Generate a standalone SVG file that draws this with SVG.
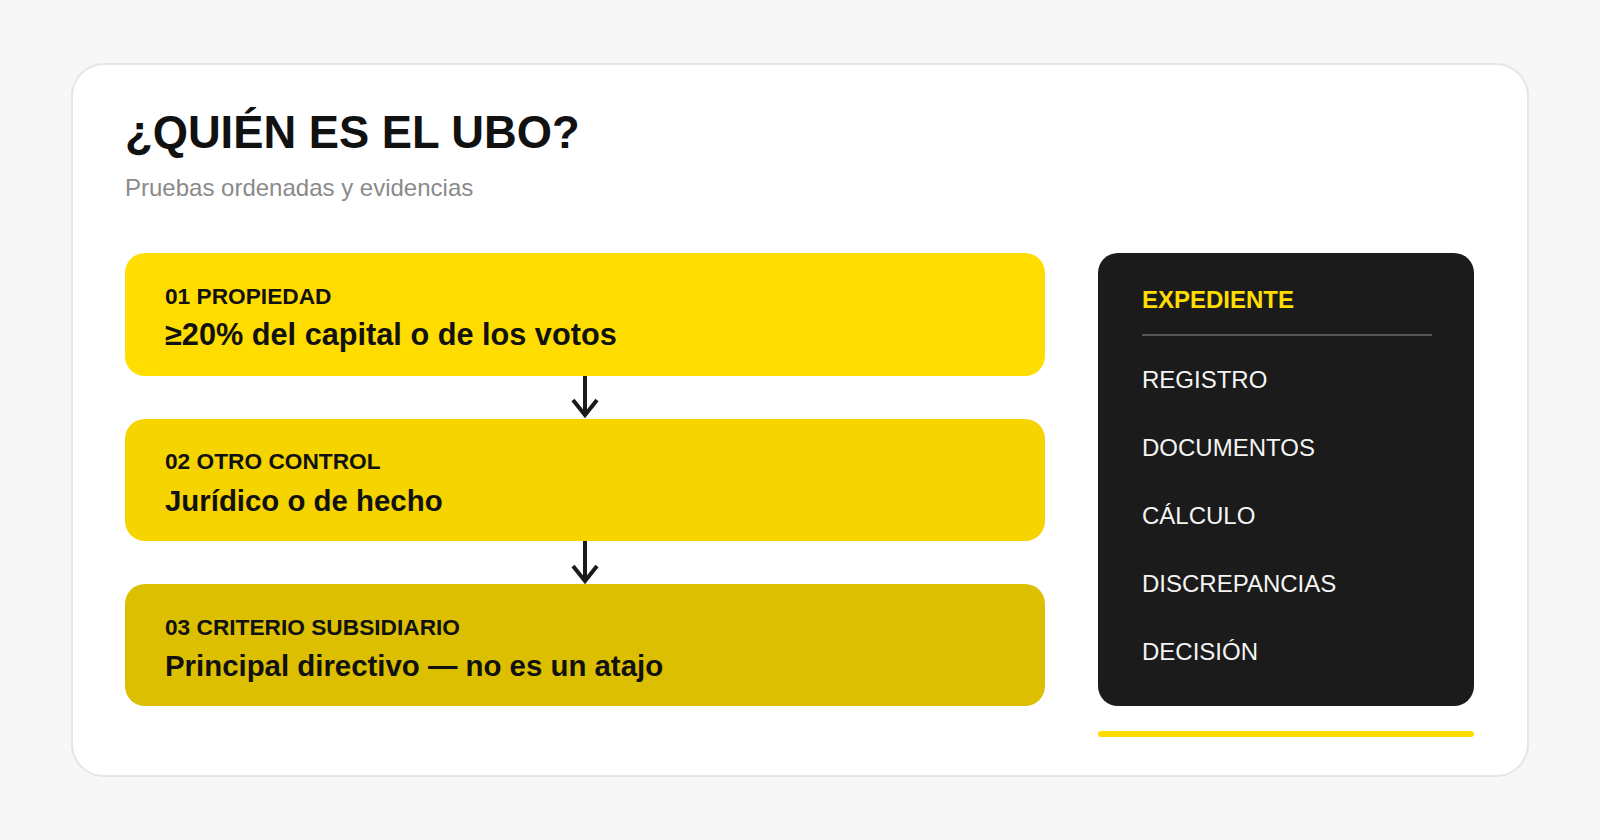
<svg xmlns="http://www.w3.org/2000/svg" width="1600" height="840" viewBox="0 0 1600 840">
  <defs>
    <style>
      text { font-family: "Liberation Sans", Arial, Helvetica, sans-serif; }
      .title { font-size: 45.3px; font-weight: 700; fill: #111111; }
      .sub { font-size: 24px; fill: #8a8a8a; }
      .step-label { font-size: 22.7px; font-weight: 700; fill: #111111; }
      .step-main { font-size: 29.4px; font-weight: 700; fill: #111111; }
      .step-main.lead { font-size: 30.7px; }
      .panel-head { font-size: 24px; font-weight: 700; fill: #FFDD00; }
      .panel-item { font-size: 24px; fill: #F4F4F4; }
      .conn { stroke: #1b1b1b; stroke-width: 4; fill: none; }
      .head { stroke: #1b1b1b; stroke-width: 4; fill: none; }
    </style>
  </defs>

  <rect x="0" y="0" width="1600" height="840" fill="#F7F7F7"/>

  <g id="card">
    <rect x="72" y="64" width="1456" height="712" rx="32" ry="32" fill="#FFFFFF" stroke="#E6E6E6" stroke-width="2"/>
    <text class="title" x="125" y="148">¿QUIÉN ES EL UBO?</text>
    <text class="sub" x="125" y="196">Pruebas ordenadas y evidencias</text>
  </g>

  <g id="connectors">
    <line class="conn" x1="585" y1="376" x2="585" y2="415"/>
    <path class="head" d="M573 400 L585 415 L597 400"/>
    <line class="conn" x1="585" y1="541" x2="585" y2="581"/>
    <path class="head" d="M573 566 L585 581 L597 566"/>
  </g>

  <g id="step-01">
    <rect x="125" y="253" width="920" height="123" rx="20" ry="20" fill="#FFDD00"/>
    <text class="step-label" x="165" y="304">01 PROPIEDAD</text>
    <text class="step-main lead" x="165" y="345">≥20% del capital o de los votos</text>
  </g>

  <g id="step-02">
    <rect x="125" y="419" width="920" height="122" rx="20" ry="20" fill="#F5D400"/>
    <text class="step-label" x="165" y="469">02 OTRO CONTROL</text>
    <text class="step-main" x="165" y="511">Jurídico o de hecho</text>
  </g>

  <g id="step-03">
    <rect x="125" y="584" width="920" height="122" rx="20" ry="20" fill="#DBBF00"/>
    <text class="step-label" x="165" y="635">03 CRITERIO SUBSIDIARIO</text>
    <text class="step-main" x="165" y="676">Principal directivo — no es un atajo</text>
  </g>

  <g id="expediente">
    <rect x="1098" y="253" width="376" height="453" rx="20" ry="20" fill="#1B1B1B"/>
    <text class="panel-head" x="1142" y="308">EXPEDIENTE</text>
    <line x1="1142" y1="335" x2="1432" y2="335" stroke="#6a6a6a" stroke-width="1.5"/>
    <text class="panel-item" x="1142" y="388">REGISTRO</text>
    <text class="panel-item" x="1142" y="456">DOCUMENTOS</text>
    <text class="panel-item" x="1142" y="524">CÁLCULO</text>
    <text class="panel-item" x="1142" y="592">DISCREPANCIAS</text>
    <text class="panel-item" x="1142" y="660">DECISIÓN</text>
  </g>

  <g id="accent-bar">
    <rect x="1098" y="731" width="376" height="6" rx="3" ry="3" fill="#FFDD00"/>
  </g>
</svg>
